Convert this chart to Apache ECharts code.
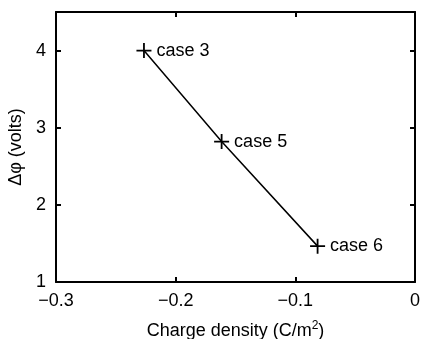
<!DOCTYPE html>
<html>
<head>
<meta charset="utf-8">
<script src="https://cdn.jsdelivr.net/npm/echarts@6/dist/echarts.min.js"></script>
<style>
  html, body { margin: 0; padding: 0; background: #fff; }
  #main { width: 423px; height: 339px; }
</style>
</head>
<body>
<div id="main"></div>
<script>
var chargeDensity = [-0.2265, -0.1616, -0.0814];
var deltaPhi = [4.0, 2.82, 1.465];
var caseNames = ['case 3', 'case 5', 'case 6'];

var xTicks = { min: -0.3, max: 0, interval: 0.1 };
var yTicks = { min: 1, max: 4.5, interval: 1 };

var myChart = echarts.init(document.getElementById('main'));

var seriesData = [];
for (var i = 0; i < chargeDensity.length; i++) {
  seriesData.push({ value: [chargeDensity[i], deltaPhi[i]], name: caseNames[i] });
}

var font = 'Liberation Sans, Arial, sans-serif';
var plus = 'path://M-0.12,-1L0.12,-1L0.12,-0.12L1,-0.12L1,0.12L0.12,0.12L0.12,1L-0.12,1L-0.12,0.12L-1,0.12L-1,-0.12L-0.12,-0.12Z';

function minus(v) {
  return String(Math.round(v * 10) / 10).replace('-', '\u2212');
}

function frameAxis(pos, isX) {
  return {
    type: 'value',
    position: pos,
    min: isX ? xTicks.min : yTicks.min,
    max: isX ? xTicks.max : yTicks.max,
    interval: isX ? xTicks.interval : yTicks.interval,
    axisLine: { show: true, onZero: false, lineStyle: { color: '#000', width: 2 } },
    axisTick: { show: true, inside: true, length: 5, lineStyle: { color: '#000', width: 2 } },
    axisLabel: { show: false },
    splitLine: { show: false }
  };
}

var xMain = frameAxis('bottom', true);
xMain.axisLabel = {
  show: true, color: '#000', fontSize: 18, fontFamily: font, margin: 10,
  formatter: function (v) { return minus(v); }
};
xMain.name = 'Charge density (C/m{sup|2})';
xMain.nameLocation = 'middle';
xMain.nameGap = 38;
xMain.nameTextStyle = {
  color: '#000', fontSize: 18, fontFamily: font,
  rich: { sup: { fontSize: 12, verticalAlign: 'top', padding: [0, 0, 10, 0], color: '#000', fontFamily: font } }
};

var yMain = frameAxis('left', false);
yMain.axisLabel = {
  show: true, color: '#000', fontSize: 18, fontFamily: font, margin: 10, showMaxLabel: false,
  formatter: function (v) { return v % 1 === 0 ? String(v) : ''; }
};
yMain.name = '\u0394\u03c6 (volts)';
yMain.nameLocation = 'middle';
yMain.nameGap = 22;
yMain.nameTextStyle = { color: '#000', fontSize: 18, fontFamily: font };

myChart.setOption({
  animation: false,
  backgroundColor: '#fff',
  grid: { left: 56, right: 8, top: 12, bottom: 57, containLabel: false, outerBoundsMode: 'none' },
  xAxis: [xMain, frameAxis('top', true)],
  yAxis: [yMain, frameAxis('right', false)],
  series: [{
    type: 'line',
    xAxisIndex: 0,
    yAxisIndex: 0,
    data: seriesData,
    symbol: plus,
    symbolSize: 15,
    showAllSymbol: true,
    lineStyle: { color: '#000', width: 1.5 },
    itemStyle: { color: '#000' },
    label: {
      show: true,
      position: 'right',
      distance: 5,
      color: '#000',
      fontSize: 18,
      fontFamily: font,
      formatter: function (p) { return p.name; }
    }
  }]
});
</script>
</body>
</html>
